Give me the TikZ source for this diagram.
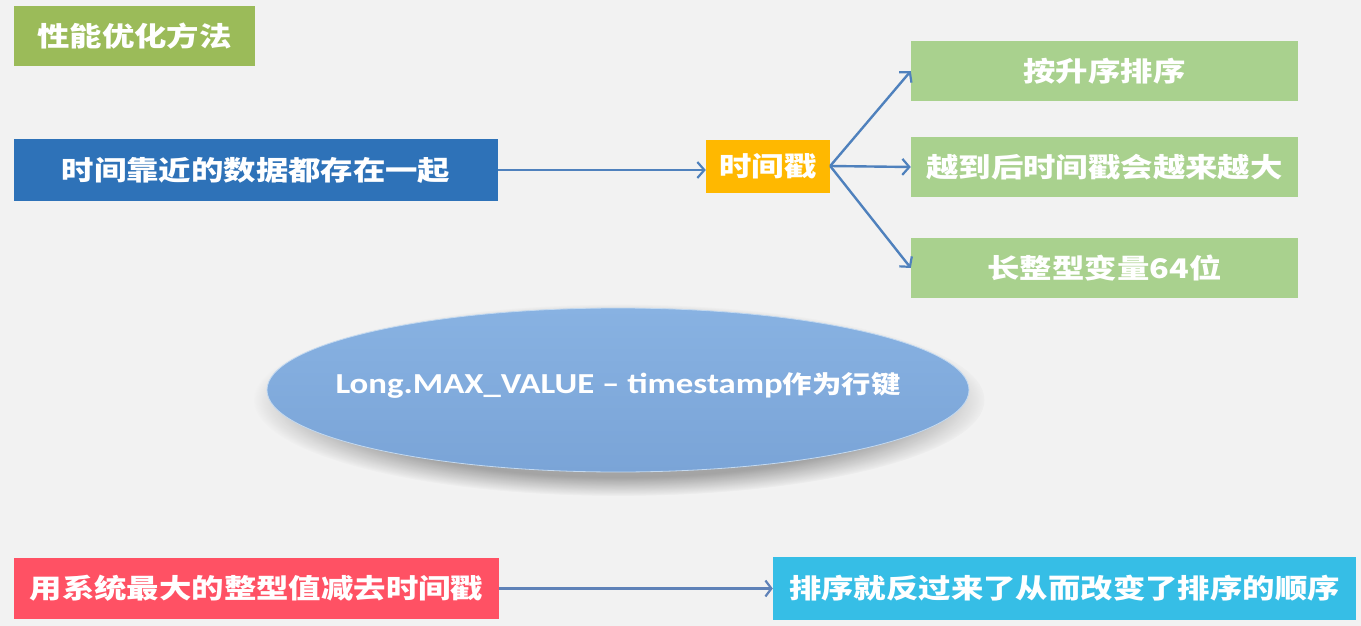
\documentclass[tikz,border=0pt]{standalone}
\usepackage{fontspec}
\usetikzlibrary{arrows.meta,shapes.geometric,fadings}
\newfontfamily\cjk[FakeStretch=1.2]{Noto Sans CJK SC}
\newfontfamily\lat[FakeStretch=1.2,Ligatures=TeX]{Carlito}
\definecolor{bg}{HTML}{F2F2F2}
\definecolor{olive}{HTML}{9BBB59}
\definecolor{dblue}{HTML}{2E72B8}
\definecolor{gold}{HTML}{FFB800}
\definecolor{lgreen}{HTML}{A9D18E}
\definecolor{lred}{HTML}{FF5164}
\definecolor{lcyan}{HTML}{36BEE6}
\definecolor{arr}{HTML}{4F81BD}
\definecolor{arrb}{HTML}{5F82B8}
\definecolor{elltop}{HTML}{88B2E2}
\definecolor{ellbot}{HTML}{7AA4D7}
\tikzset{
  box/.style={rectangle, inner sep=0pt, text=white, font=\cjk\bfseries\fontsize{27}{30}\selectfont},
  conn/.style={draw=arr, line width=2.4pt, -{Straight Barb[length=7pt,width=16pt,line width=2.2pt]}},
  connb/.style={draw=arrb, line width=3.4pt, -{Straight Barb[length=6pt,width=16pt,line width=2.2pt]}}
}
\begin{document}
\begin{tikzpicture}[x=1pt,y=-1pt]
\fill[bg] (0,0) rectangle (1361,626);
\useasboundingbox (0,0) rectangle (1361,626);

\node[box, fill=olive, minimum width=241pt, minimum height=60pt] (title) at (134.5,36) {性能优化方法};
\node[box, fill=dblue, minimum width=484pt, minimum height=62pt] (near) at (256,170) {时间靠近的数据都存在一起};
\node[box, fill=gold, minimum width=124pt, minimum height=53pt] (ts) at (768,166) {时间戳};
\node[box, fill=lgreen, minimum width=387pt, minimum height=60pt] (g1) at (1104.5,71) {按升序排序};
\node[box, fill=lgreen, minimum width=387pt, minimum height=60pt] (g2) at (1104.5,167) {越到后时间戳会越来越大};
\node[box, fill=lgreen, minimum width=387pt, minimum height=60pt] (g3) at (1104.5,268) {长整型变量64位};
\node[box, fill=lred, minimum width=485pt, minimum height=61pt] (sub) at (256.5,588.5) {用系统最大的整型值减去时间戳};
\node[box, fill=lcyan, minimum width=583pt, minimum height=63pt] (rev) at (1064.5,588.5) {排序就反过来了从而改变了排序的顺序};

% ellipse shadow
\fill[black, opacity=0.32, path fading=circle with fuzzy edge 20 percent] (620,400) ellipse (366pt and 96pt);
\node[ellipse, inner sep=0pt, minimum width=702pt, minimum height=164pt,
  top color=elltop, bottom color=ellbot, draw=elltop!50!white, line width=0.8pt] (ell) at (618,390) {};
\node[text=white, inner sep=0pt] (elltxt) at ([yshift=5pt]ell.center)
  {\lat\bfseries\fontsize{29}{32}\selectfont Long.MAX\_VALUE – timestamp\cjk\fontsize{24.5}{30}\selectfont 作为行键};

\draw[conn] (near.east) -- (near.east -| ts.west);
\draw[conn] (ts.east) -- (g1.west);
\draw[conn] (ts.east) -- (g2.west);
\draw[conn] (ts.east) -- (g3.west);
\draw[connb] (sub.east) -- (rev.west);
\end{tikzpicture}
\end{document}
